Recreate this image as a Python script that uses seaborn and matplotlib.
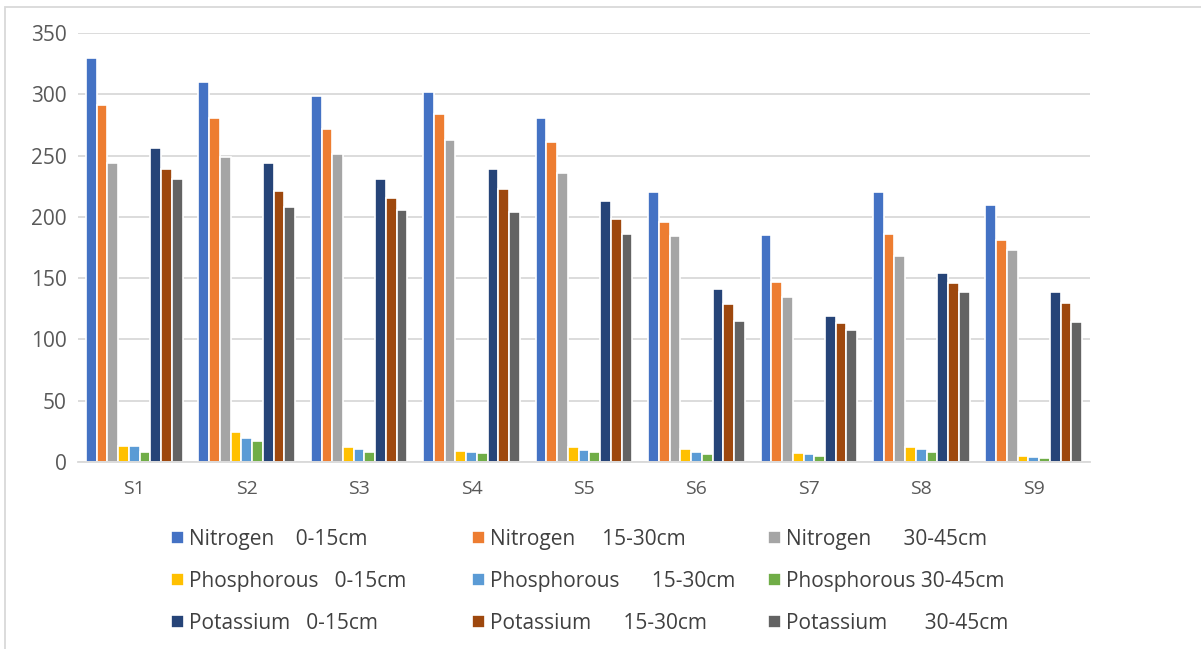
import matplotlib
matplotlib.use('Agg')
import matplotlib.pyplot as plt
import seaborn as sns
import pandas as pd
from matplotlib.patches import Rectangle

sites = ['S1', 'S2', 'S3', 'S4', 'S5', 'S6', 'S7', 'S8', 'S9']

nitrogen_0_15 = [330, 310, 299, 302, 281, 220, 185, 220, 210]
nitrogen_15_30 = [291, 281, 272, 284, 261, 196, 147, 186, 181]
nitrogen_30_45 = [244, 249, 251, 263, 236, 184, 135, 168, 173]
phosphorous_0_15 = [13.3, 24.5, 12.0, 9.3, 12.5, 10.6, 7.1, 12.5, 4.9]
phosphorous_15_30 = [13.3, 19.9, 10.9, 8.2, 9.8, 8.2, 6.5, 10.3, 4.1]
phosphorous_30_45 = [8.4, 17.1, 8.2, 7.6, 8.2, 6.5, 4.9, 8.2, 3.5]
potassium_0_15 = [256, 244, 231, 239, 213, 141, 119, 154, 139]
potassium_15_30 = [239, 221, 215, 223, 198, 129, 113, 146, 130]
potassium_30_45 = [231, 208, 206, 204, 186, 115, 108, 139, 114]

series_labels = [
    'Nitrogen    0-15cm',
    'Nitrogen     15-30cm',
    'Nitrogen      30-45cm',
    'Phosphorous   0-15cm',
    'Phosphorous      15-30cm',
    'Phosphorous 30-45cm',
    'Potassium   0-15cm',
    'Potassium      15-30cm',
    'Potassium       30-45cm',
]
series_values = [
    nitrogen_0_15, nitrogen_15_30, nitrogen_30_45,
    phosphorous_0_15, phosphorous_15_30, phosphorous_30_45,
    potassium_0_15, potassium_15_30, potassium_30_45,
]
colors = ['#4472C4', '#ED7D31', '#A5A5A5',
          '#FFC000', '#5B9BD5', '#70AD47',
          '#264478', '#9E480E', '#636363']

rows = []
for label, vals in zip(series_labels, series_values):
    for site, v in zip(sites, vals):
        rows.append({'Site': site, 'Series': label, 'Value': v})
df = pd.DataFrame(rows)

sns.set_style('white')
plt.rcParams['font.family'] = ['Open Sans', 'DejaVu Sans']

fig = plt.figure(figsize=(12.01, 6.49), dpi=100)
ax = fig.add_axes([78 / 1201, 1 - 462 / 649, (1090 - 78) / 1201, (462 - 33) / 649])

sns.barplot(
    data=df, x='Site', y='Value', hue='Series',
    hue_order=series_labels, palette=colors,
    width=0.86, edgecolor='white', linewidth=1.2,
    saturation=1, ax=ax
)

ax.set_ylim(0, 350)
ax.set_yticks(range(0, 351, 50))
ax.set_xlim(-0.5, len(sites) - 0.5)
ax.grid(axis='y', color='#D9D9D9', linewidth=1.3)
ax.set_axisbelow(True)
for side in ['top', 'right', 'left']:
    ax.spines[side].set_visible(False)
ax.spines['bottom'].set_color('#D9D9D9')
ax.spines['bottom'].set_linewidth(1.3)
ax.tick_params(axis='y', length=0, pad=8, labelsize=15, labelcolor='#595959')
ax.tick_params(axis='x', length=0, pad=13, labelsize=14, labelcolor='#595959')
ax.set_xlabel('')
ax.set_ylabel('')

handles, labels = ax.get_legend_handles_labels()
ax.get_legend().remove()

# one legend per column so the columns sit where the reference has them
col_x = [171, 472, 768]
for c in range(3):
    idx = [c, c + 3, c + 6]
    fig.legend(
        [handles[i] for i in idx], [labels[i] for i in idx],
        loc='upper left', bbox_to_anchor=(col_x[c] / 1201, 1 - 529 / 649),
        frameon=False, fontsize=15, labelcolor='#404040',
        handlelength=0.6, handleheight=0.6, handletextpad=0.25,
        labelspacing=1.0, borderpad=0, borderaxespad=0
    )

fig.patches.append(Rectangle((5 / 1201, -0.05), 1.1, 1 - 7 / 649 + 0.05,
                             transform=fig.transFigure, fill=False,
                             edgecolor='#D9D9D9', linewidth=1.3))

fig.savefig('out.png', dpi=100)
